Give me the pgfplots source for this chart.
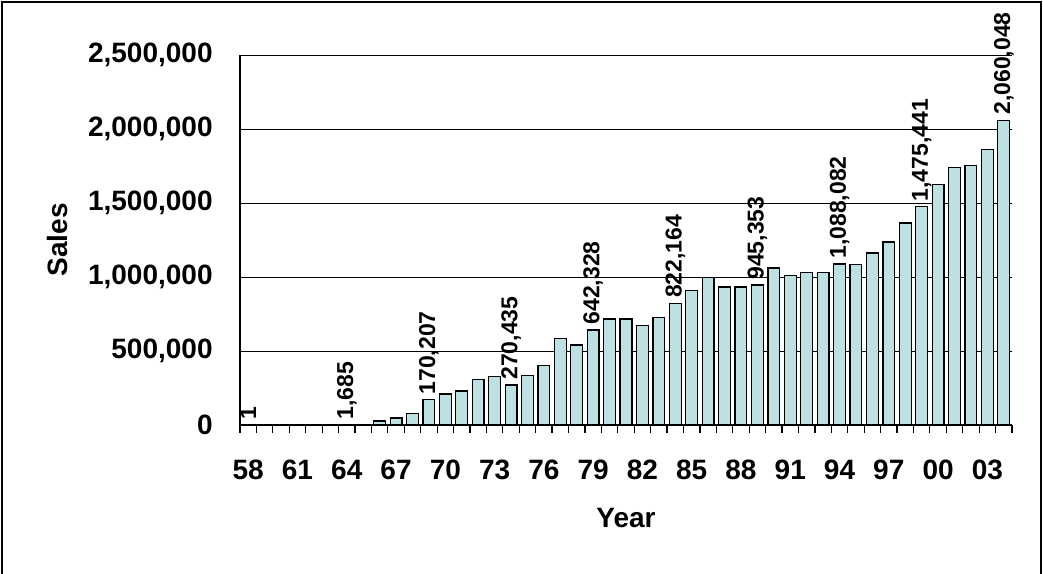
\documentclass[border=0pt]{standalone}
\usepackage{fontspec}
\setmainfont{Liberation Sans}
\usepackage{pgfplots}
\usepackage{pgfplotstable}
\pgfplotsset{compat=1.18}
\definecolor{barfill}{RGB}{189,224,227}
\pgfplotstableread{
x y
0 1
1 0
2 0
3 0
4 0
5 0
6 1685
7 0
8 27000
9 47000
10 79000
11 170207
12 209000
13 230000
14 306000
15 327000
16 270435
17 336000
18 402000
19 586000
20 541000
21 642328
22 716000
23 716000
24 671000
25 727000
26 822164
27 911000
28 998000
29 932000
30 932000
31 945353
32 1061000
33 1008000
34 1031000
35 1031000
36 1088082
37 1083000
38 1162000
39 1236000
40 1365000
41 1475441
42 1624000
43 1742000
44 1755000
45 1861000
46 2060048
}\sales
\pgfplotstableread{
x y lab
0 1 1
6 1685 1,685
11 170207 170,207
16 270435 270,435
21 642328 642,328
26 822164 822,164
31 945353 945,353
36 1088082 1,088,082
41 1475441 1,475,441
46 2060048 2,060,048
}\labs
\begin{document}
\begin{tikzpicture}
\useasboundingbox (0,0) rectangle (521.5pt,286.5pt);
\draw[line width=0.8pt] (1pt,-2pt) -- (1pt,285.5pt) -- (520.5pt,285.5pt) -- (520.5pt,-2pt);
\begin{axis}[
  at={(120pt,74pt)}, anchor=south west,
  scale only axis, width=386pt, height=185pt,
  clip=false,
  ymin=0, ymax=2500000,
  xmin=-0.5, xmax=46.5,
  scaled y ticks=false,
  axis x line*=bottom, axis y line*=left,
  axis line style={line width=0.6pt, -},
  ytick={0,500000,1000000,1500000,2000000,2500000},
  yticklabels={0,{500,000},{1,000,000},{1,500,000},{2,000,000},{2,500,000}},
  ymajorgrids=true,
  grid style={black, line width=0.5pt},
  xtick={0,3,...,45},
  xticklabels={58,61,64,67,70,73,76,79,82,85,88,91,94,97,00,03},
  minor xtick={-0.5,0.5,...,46.5},
  major tick length=0pt,
  minor tick length=4pt,
  tick align=outside,
  minor tick style={black, line width=0.6pt},
  tick label style={font=\fontsize{14}{16}\selectfont\bfseries},
  yticklabel style={anchor=east, inner sep=0pt, xshift=-13.5pt},
  xticklabel style={anchor=north, inner sep=0pt, yshift=-17.5pt},
  xlabel={Year}, ylabel={Sales},
  label style={font=\fontsize{14}{16}\selectfont\bfseries},
  xlabel style={at={(axis description cs:0.5,-0.224)}, anchor=north, inner sep=0pt},
  ylabel style={at={(axis description cs:-0.237,0.5)}, anchor=center, inner sep=0pt},
]
\addplot[ybar, bar width=0.72, bar shift=0pt, fill=barfill, draw=black, line width=0.6pt] table[x=x,y=y] {\sales};
\addplot[ybar, bar width=0.72, bar shift=0pt, draw=none, fill=none,
  point meta=explicit symbolic,
  nodes near coords={\pgfplotspointmeta},
  every node near coord/.append style={rotate=90, anchor=west, inner sep=2.5pt, font=\fontsize{11.5}{13}\selectfont\bfseries}]
  table[x=x,y=y,meta=lab] {\labs};
\end{axis}
\end{tikzpicture}
\end{document}
